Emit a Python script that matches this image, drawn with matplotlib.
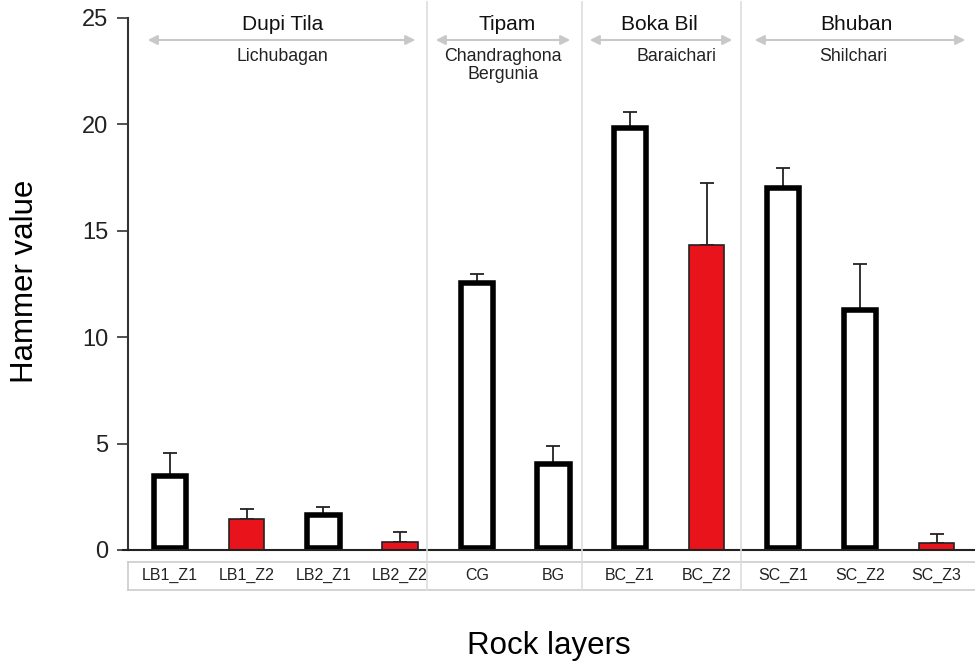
import numpy as np
import matplotlib.pyplot as plt

plt.rcParams['font.family'] = ['Liberation Sans', 'DejaVu Sans']

# sample names and values
samples = ['LB1_Z1', 'LB1_Z2', 'LB2_Z1', 'LB2_Z2', 'CG', 'BG',
           'BC_Z1', 'BC_Z2', 'SC_Z1', 'SC_Z2', 'SC_Z3']
hammer = [3.47, 1.45, 1.64, 0.38, 12.55, 4.05, 19.85, 14.35, 17.0, 11.3, 0.35]
err = [1.1, 0.48, 0.4, 0.47, 0.4, 0.85, 0.75, 2.9, 0.95, 2.15, 0.4]
is_red = [False, True, False, True, False, False, False, True, False, False, True]

groups = ['Dupi Tila', 'Tipam', 'Boka Bil', 'Bhuban']
subgroups = ['Lichubagan', 'Chandraghona\nBergunia', 'Baraichari', 'Shilchari']

W, H = 975, 667
fig = plt.figure(figsize=(9.75, 6.67), dpi=100)
ax = fig.add_axes([128 / W, 1 - 550 / H, 1 - 128 / W, (550 - 18) / H])

x = np.arange(len(samples))
for i in range(len(samples)):
    if is_red[i]:
        ax.bar(x[i], hammer[i], width=0.46, color='#e8131b', edgecolor='#222222',
               linewidth=1.2, zorder=3)
    else:
        ax.bar(x[i], hammer[i] - 0.1, bottom=0.1, width=0.42, color='white',
               edgecolor='black', linewidth=4, zorder=3)
    ax.errorbar(x[i], hammer[i], yerr=[[0], [err[i]]], fmt='none',
                ecolor='#222222', elinewidth=1.3, capsize=5, capthick=1.3, zorder=2)

ax.set_xlim(-0.55, 10.5)
ax.set_ylim(0, 25)
ax.set_yticks([0, 5, 10, 15, 20, 25])
ax.tick_params(axis='y', labelsize=17, length=8, width=1.2, color='#333333',
               labelcolor='#222222', pad=6)
ax.set_xticks([])
for s in ['top', 'right', 'bottom']:
    ax.spines[s].set_visible(False)
ax.spines['left'].set_color('#333333')
ax.spines['left'].set_linewidth(1.5)
ax.axhline(0, color='#222222', lw=1.5, xmin=-0.006, clip_on=False, zorder=4)

def fx(px):
    return px / W

def fy(py):
    return 1 - py / H

# table-like lines below the axis
for py in [562, 590]:
    fig.add_artist(plt.Line2D([fx(128), 1], [fy(py), fy(py)], color='#cccccc', lw=1.2))
fig.add_artist(plt.Line2D([fx(128), fx(128)], [fy(562), fy(590)], color='#cccccc', lw=1.2))
for px in [427, 582, 741]:
    fig.add_artist(plt.Line2D([fx(px), fx(px)], [fy(2), fy(590)], color='#dddddd', lw=1.2))

for i, s in enumerate(samples):
    ax.text(x[i], -1.2, s, ha='center', va='center', fontsize=11.5, color='#222222',
            clip_on=False)

# group arrows and labels
spans = [(145, 418), (433, 573), (587, 735), (752, 968)]
group_x = [283, 507, 659, 856]
sub_x = [282, 503, 677, 853]
for (a, b), g, gx, sg, sx in zip(spans, groups, group_x, subgroups, sub_x):
    fig.add_artist(plt.Line2D([fx(a + 6), fx(b - 6)], [fy(40), fy(40)], color='#c8c8c8', lw=1.5))
    ax.annotate('', xy=(fx(a), fy(40)), xytext=(fx(a + 15), fy(40)), xycoords='figure fraction',
                arrowprops=dict(arrowstyle='-|>', color='#c8c8c8', lw=1.5, mutation_scale=14))
    ax.annotate('', xy=(fx(b), fy(40)), xytext=(fx(b - 15), fy(40)), xycoords='figure fraction',
                arrowprops=dict(arrowstyle='-|>', color='#c8c8c8', lw=1.5, mutation_scale=14))
    fig.text(fx(gx), fy(24), g, ha='center', va='center', fontsize=15, color='#111111')
    fig.text(fx(sx), fy(48), sg, ha='center', va='top', fontsize=12.8, color='#222222',
             linespacing=1.1)

fig.text(fx(25), fy(281), 'Hammer value', rotation=90, ha='center', va='center', fontsize=22.5)
fig.text(fx(549), fy(646), 'Rock layers', ha='center', va='center', fontsize=22.5)

plt.savefig('out.png', dpi=100)
plt.close()
